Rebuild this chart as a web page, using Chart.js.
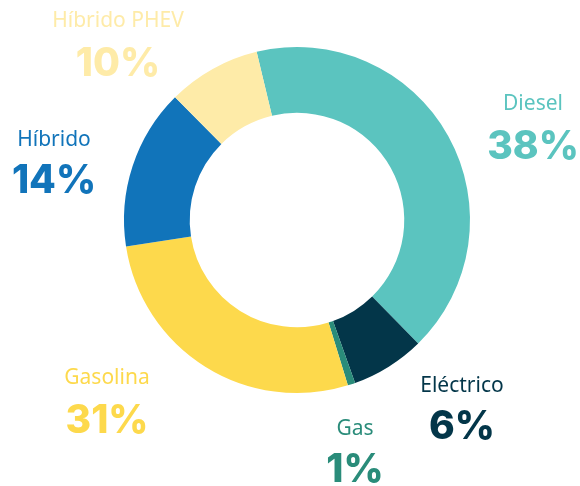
<!DOCTYPE html>
<html>
<head>
<meta charset="utf-8">
<script src="https://cdn.jsdelivr.net/npm/chart.js@4.4.0/dist/chart.umd.min.js"></script>
<style>
  html, body { margin: 0; padding: 0; background: #fff; }
</style>
</head>
<body>
<canvas id="fuelChart" width="580" height="486"></canvas>
<script>
const categories = ['Diesel', 'Eléctrico', 'Gas', 'Gasolina', 'Híbrido', 'Híbrido PHEV'];
const shares = [41.4, 6.9, 0.7, 27.3, 15.0, 8.7];
const pctLabels = ['38%', '6%', '1%', '31%', '14%', '10%'];
const colors = ['#5bc4bf', '#033649', '#2a8c7a', '#fdd94c', '#1174ba', '#feeba8'];

// label anchors relative to the doughnut centre: [x, name baseline, percent baseline]
const labelPos = [
    [236, -110, -61],
    [165, 172, 219],
    [58, 215, 262],
    [-190, 164, 213],
    [-243, -74, -27],
    [-179, -193, -144]
];

const outsideLabels = {
    id: 'outsideLabels',
    afterDraw(chart) {
        const ctx = chart.ctx;
        const arc = chart.getDatasetMeta(0).data[0];
        const cx = arc.x, cy = arc.y;
        ctx.save();
        ctx.textAlign = 'center';
        ctx.textBaseline = 'alphabetic';
        categories.forEach(function(name, i) {
            const p = labelPos[i];
            ctx.fillStyle = colors[i];
            ctx.font = '21px "Noto Sans"';
            ctx.fillText(name, cx + p[0], cy + p[1]);
            ctx.font = '800 39px Inter';
            ctx.fillText(pctLabels[i], cx + p[0], cy + p[2]);
        });
        ctx.restore();
    }
};

const ctx = document.getElementById('fuelChart').getContext('2d');
new Chart(ctx, {
    type: 'doughnut',
    data: {
        labels: categories,
        datasets: [{
            data: shares,
            backgroundColor: colors,
            borderWidth: 0,
            hoverOffset: 0
        }]
    },
    options: {
        responsive: false,
        animation: false,
        cutout: '62%',
        rotation: -13.5,
        layout: {
            padding: { top: 47, bottom: 93, left: 124, right: 110 }
        },
        plugins: {
            legend: { display: false },
            tooltip: { enabled: false }
        }
    },
    plugins: [outsideLabels]
});
</script>
</body>
</html>
